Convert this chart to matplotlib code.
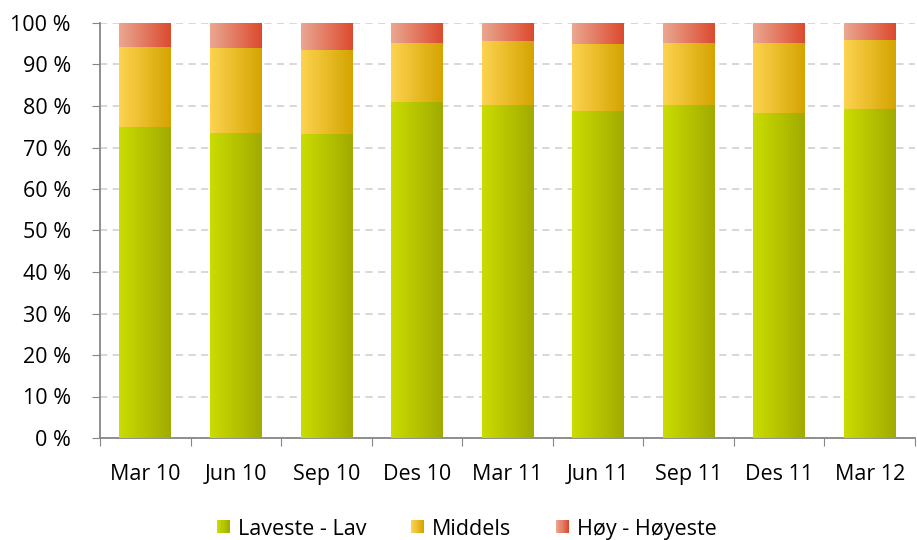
import numpy as np
import matplotlib
matplotlib.use("Agg")
import matplotlib.pyplot as plt
from matplotlib.colors import LinearSegmentedColormap
from matplotlib.patches import Rectangle
from matplotlib.legend_handler import HandlerBase

# Data (percent shares per quarter)
quarters = ["Mar 10", "Jun 10", "Sep 10", "Des 10", "Mar 11", "Jun 11", "Sep 11", "Des 11", "Mar 12"]
lav = [75.0, 73.5, 73.3, 81.0, 80.2, 78.8, 80.2, 78.3, 79.3]
middels = [19.2, 20.5, 20.2, 14.2, 15.5, 16.1, 15.0, 16.9, 16.6]
hoy = [100 - a - b for a, b in zip(lav, middels)]
series_names = ["Laveste - Lav", "Middels", "Høy - Høyeste"]

# gradient end colours (left -> right)
grads = [("#cadd00", "#a0aa00"), ("#fdd350", "#d4a400"), ("#eaa892", "#dc4a2e")]
cmaps = [LinearSegmentedColormap.from_list("g%d" % i, g) for i, g in enumerate(grads)]

plt.rcParams['font.family'] = ['Open Sans', 'DejaVu Sans']
FS = 15.5

fig = plt.figure(figsize=(9.17, 5.4), dpi=100)
ax = fig.add_axes([100 / 917, 1 - 438 / 540, 815 / 917, 415 / 540])

x = np.arange(len(quarters))
width = 0.57
grad_img = np.linspace(0, 1, 256).reshape(1, -1)

bottoms = np.zeros(len(quarters))
for vals, cmap in zip([lav, middels, hoy], cmaps):
    for xi, b, v in zip(x, bottoms, vals):
        ax.imshow(grad_img, cmap=cmap, aspect='auto', interpolation='bilinear',
                  extent=[xi - width / 2, xi + width / 2, b, b + v], zorder=3)
    bottoms = bottoms + np.array(vals)

ax.set_xlim(-0.5, len(quarters) - 0.5)
ax.set_ylim(0, 100)

# grid
ax.set_yticks(np.arange(0, 101, 10))
ax.set_yticklabels(["%d %%" % v for v in range(0, 101, 10)], fontsize=FS)
ax.yaxis.grid(True, linestyle=(0, (4, 3)), color="#d4d4d4", linewidth=1.3, zorder=0)
ax.set_axisbelow(True)

# x ticks at category boundaries, labels centered
ax.set_xticks(np.arange(-0.5, len(quarters), 1.0))
ax.set_xticklabels([])
ax.set_xticks(x, minor=True)
ax.set_xticklabels(quarters, minor=True, fontsize=FS)
ax.tick_params(axis='x', which='minor', length=0, pad=19)
ax.tick_params(axis='x', which='major', length=6, color="#868686", direction='out')
ax.tick_params(axis='y', length=6, color="#868686", direction='out', pad=15)

for side in ["top", "right"]:
    ax.spines[side].set_visible(False)
for side in ["left", "bottom"]:
    ax.spines[side].set_color("#868686")
    ax.spines[side].set_linewidth(1.3)


class GradientHandler(HandlerBase):
    def __init__(self, cmap):
        super().__init__()
        self.cmap = cmap

    def create_artists(self, legend, orig_handle, xdescent, ydescent, width, height, fontsize, trans):
        n = 12
        side = 13 * 72 / 100
        x0 = width - side - xdescent
        y0 = -ydescent + (height - side) / 2
        arts = []
        for i in range(n):
            r = Rectangle((x0 + side * i / n, y0), side / n + 0.2, side,
                          facecolor=self.cmap(i / (n - 1)), edgecolor='none', transform=trans)
            arts.append(r)
        return arts


handles = [Rectangle((0, 0), 1, 1) for _ in series_names]
fig.legend(handles, series_names, loc='lower center', bbox_to_anchor=(0.509, -0.035),
           ncol=3, frameon=False, fontsize=FS, handlelength=0.6, handletextpad=0.35,
           columnspacing=2.1,
           handler_map={h: GradientHandler(c) for h, c in zip(handles, cmaps)})

fig.savefig("out.png", dpi=100)
